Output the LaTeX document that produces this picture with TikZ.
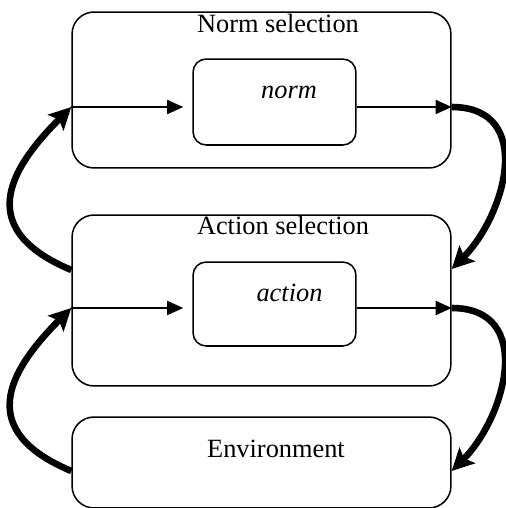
\documentclass[tikz,border=0pt]{standalone}
\usepackage{fontspec}
\setmainfont{Liberation Serif}[ItalicFont={Liberation Serif Italic}]
\usetikzlibrary{arrows.meta}
\begin{document}
\begin{tikzpicture}[x=0.016cm, y=-0.016cm,
        outer/.style={draw, line width=0.7pt, rounded corners=10pt, minimum width=6.064cm},
        inner/.style={draw, line width=0.7pt, rounded corners=6pt, minimum width=2.608cm},
        txt/.style={font=\fontsize{12}{14}\selectfont, anchor=base, inner sep=0pt},
        thin/.style={line width=0.7pt, -{Triangle[length=7.3pt,width=6.4pt]}},
        loop/.style={line width=3pt, -{Stealth[length=10pt,width=10pt,inset=2pt]}}]
        \useasboundingbox (0,0) rectangle (506,508);
        % boxes
        \node[outer, minimum height=2.496cm] (normsel) at (261.5,90) {};
        \node[outer, minimum height=2.736cm] (actsel) at (261.5,300.5) {};
        \node[outer, minimum height=1.456cm] (env) at (261.5,462.5) {};
        \node[inner, minimum height=1.376cm] (normbox) at (274.5,102) {};
        \node[inner, minimum height=1.344cm] (actbox) at (274.5,304) {};
        % texts
        \node[txt] (normtitle) at (278,32) {Norm selection};
        \node[txt] (acttitle) at (283,234) {Action selection};
        \node[txt] (normtext) at (289,98) {\textit{norm}};
        \node[txt] (acttext) at (289.5,301) {\textit{action}};
        \node[txt] (envtext) at (276,457) {Environment};
        % inner arrows
        \draw[thin, shorten >=4.1pt] (normsel.west |- 0,107) -- (normbox.west |- 0,107);
        \draw[thin] (normbox.east |- 0,107) -- (normsel.east |- 0,107);
        \draw[thin, shorten >=4.1pt] (actsel.west |- 0,308) -- (actbox.west |- 0,308);
        \draw[thin] (actbox.east |- 0,308) -- (actsel.east |- 0,308);
        % feedback loops
        \draw[loop] (actsel.west |- 0,270) .. controls +(-95,-40) and +(-65,65) .. (normsel.west |- 0,107);
        \draw[loop] (normsel.east |- 0,107) .. controls +(84,0) and +(54,-54) .. (actsel.east |- 0,269);
        \draw[loop] (env.west |- 0,471) .. controls +(-95,-40) and +(-65,65) .. (actsel.west |- 0,308);
        \draw[loop] (actsel.east |- 0,308) .. controls +(84,0) and +(54,-54) .. (env.east |- 0,471);
\end{tikzpicture}
\end{document}
